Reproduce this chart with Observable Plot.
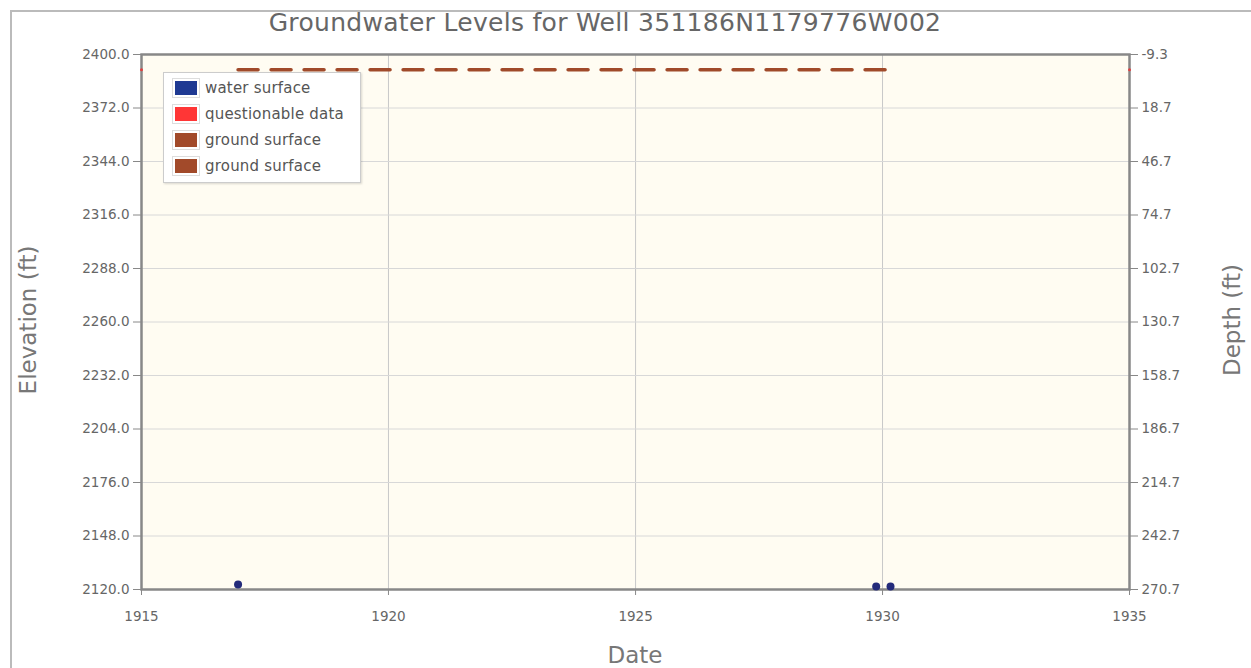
<!DOCTYPE html>
<html>
<head>
<meta charset="utf-8">
<script src="https://cdn.jsdelivr.net/npm/d3@7"></script>
<script src="https://cdn.jsdelivr.net/npm/@observablehq/plot@0.6"></script>
<style>
  html, body { margin: 0; padding: 0; background: #fff; }
  #wrap { position: relative; width: 1251px; height: 668px; overflow: hidden; font-family: "DejaVu Sans", sans-serif; }
  #frame { position: absolute; left: 10px; top: 10px; width: 1260px; height: 700px; border-left: 2px solid #bbb; border-top: 2px solid #bbb; }
  #title { position: absolute; left: 0; top: 8px; width: 1210px; text-align: center; font-size: 25px; color: #666; letter-spacing: 0.3px; white-space: nowrap; }
  #chart { position: absolute; left: 0; top: 40px; }
  #legend { position: absolute; left: 163px; top: 72px; width: 196px; height: 109px; background: #fff; border: 1px solid #ccc; box-shadow: 1px 1px 2px rgba(0,0,0,0.15); }
  .item { position: absolute; left: 8px; height: 20px; font-size: 15px; color: #555; white-space: nowrap; letter-spacing: 0.2px; }
  .sw { position: absolute; left: 0; top: 0; width: 28px; height: 20px; border: 1px solid #ddd; box-sizing: border-box; }
  .sw span { position: absolute; left: 2px; top: 2px; right: 2px; bottom: 2px; }
  .lab { position: absolute; left: 33px; top: 0; line-height: 20px; }
  .axlab { position: absolute; font-size: 23px; color: #777; white-space: nowrap; }
</style>
</head>
<body>
<div id="wrap">
  <div id="frame"></div>
  <div id="title">Groundwater Levels for Well 351186N1179776W002</div>
  <div id="chart"></div>
  <div id="legend"></div>
</div>
<script>
// ---- data ----
const groundSurface = 2390.7;           // depth = groundSurface - elevation (right axis)
const waterDates = ["1916-12-15", "1929-11-15", "1930-03-01"];
const waterElev = [2122.6, 2121.6, 2121.6];
const groundDates = ["1916-12-15", "1930-02-15"];
const groundElev = [2392, 2392];
const edgeDates = ["1915-01-01", "1935-01-01"];
const edgeElev = [2392, 2392];
const yTicks = [2120, 2148, 2176, 2204, 2232, 2260, 2288, 2316, 2344, 2372, 2400];
const xTickYears = [1915, 1920, 1925, 1930, 1935];
const legendLabels = ["water surface", "questionable data", "ground surface", "ground surface"];
const legendColors = ["#1f3a93", "#ff3636", "#a24a2a", "#a24a2a"];

const parse = d3.utcParse("%Y-%m-%d");
const water = waterDates.map((d, i) => ({date: parse(d), elev: waterElev[i]}));
const ground = groundDates.map((d, i) => ({date: parse(d), elev: groundElev[i]}));
const edges = edgeDates.map((d, i) => ({date: parse(d), elev: edgeElev[i]}));
const xTicks = xTickYears.map(y => new Date(Date.UTC(y, 0, 1)));

const chart = Plot.plot({
  width: 1251,
  height: 628,
  marginLeft: 141,
  marginRight: 122,
  marginTop: 14,
  marginBottom: 79,
  style: {fontFamily: "DejaVu Sans, sans-serif", fontSize: "13px", color: "#666", background: "transparent"},
  x: {type: "utc", domain: [xTicks[0], xTicks[xTicks.length - 1]]},
  y: {domain: [2120, 2400]},
  marks: [
    Plot.frame({fill: "#fffcf2", stroke: null}),
    Plot.gridX(xTicks, {stroke: "#c8c8c8", strokeOpacity: 1}),
    Plot.gridY(yTicks, {stroke: "#d8d8d8", strokeOpacity: 1}),
    Plot.axisY({anchor: "left", ticks: yTicks, tickSize: 8, tickPadding: 4, tickFormat: d => d.toFixed(1), label: null, stroke: "#888", fontSize: 13.5}),
    Plot.axisY({anchor: "right", ticks: yTicks, tickSize: 8, tickPadding: 4, tickFormat: d => (groundSurface - d).toFixed(1), label: null, stroke: "#888", fontSize: 13.5}),
    Plot.axisX({ticks: xTicks, tickSize: 6, tickPadding: 16, tickFormat: d => String(d.getUTCFullYear()), label: null, stroke: "#888", fontSize: 13.5}),
    Plot.frame({stroke: "#888", strokeWidth: 2.5}),
    Plot.line(ground, {x: "date", y: "elev", stroke: "#a04a2a", strokeWidth: 3.5, strokeDasharray: "20,13"}),
    Plot.dot(edges, {x: "date", y: "elev", r: 1.5, fill: "#e04040"}),
    Plot.dot(water, {x: "date", y: "elev", r: 4, fill: "#232a7a"})
  ]
});
document.getElementById("chart").appendChild(chart);

// legend
const leg = document.getElementById("legend");
legendLabels.forEach((t, i) => {
  const it = document.createElement("div");
  it.className = "item";
  it.style.top = (5 + i * 26) + "px";
  it.innerHTML = `<div class="sw"><span style="background:${legendColors[i]}"></span></div><div class="lab">${t}</div>`;
  leg.appendChild(it);
});

// axis titles
const wrap = document.getElementById("wrap");
const yl = document.createElement("div");
yl.className = "axlab"; yl.textContent = "Elevation (ft)";
yl.style.left = "28px"; yl.style.top = "320px";
yl.style.transform = "translate(-50%,-50%) rotate(-90deg)";
wrap.appendChild(yl);
const yr = document.createElement("div");
yr.className = "axlab"; yr.textContent = "Depth (ft)";
yr.style.left = "1232px"; yr.style.top = "320px";
yr.style.transform = "translate(-50%,-50%) rotate(-90deg)";
wrap.appendChild(yr);
const xl = document.createElement("div");
xl.className = "axlab"; xl.textContent = "Date";
xl.style.left = "635px"; xl.style.top = "655px";
xl.style.transform = "translate(-50%,-50%)";
wrap.appendChild(xl);
</script>
</body>
</html>
